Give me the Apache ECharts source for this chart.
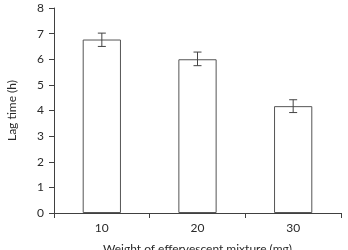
<!DOCTYPE html>
<html>
<head>
<meta charset="utf-8">
<script src="https://cdn.jsdelivr.net/npm/echarts@6/dist/echarts.min.js"></script>
<style>
  html, body { margin: 0; padding: 0; background: #fff; }
  #chart { width: 348px; height: 250px; }
</style>
</head>
<body>
<div id="chart"></div>
<script>
// data
const categories = ['10', '20', '30'];
const lagTime = [6.77, 6.0, 4.17];
const errLow = [6.5, 5.75, 3.92];
const errHigh = [7.02, 6.28, 4.42];

const font = 'Lato';
const textColor = '#2a2a2a';
const axisColor = '#404040';

const chart = echarts.init(document.getElementById('chart'));

chart.setOption({
  animation: false,
  // keep the plot where it is, even if the axis name runs off the bottom
  grid: { left: 54, right: 7, top: 8, bottom: 37, outerBoundsMode: 'none', containLabel: false },
  xAxis: {
    type: 'category',
    data: categories,
    name: 'Weight of effervescent mixture (mg)',
    nameLocation: 'middle',
    nameGap: 30,
    nameTextStyle: { fontFamily: font, fontSize: 12, color: textColor },
    axisLine: { lineStyle: { color: axisColor, width: 1 } },
    axisTick: { show: true, length: 5, lineStyle: { color: axisColor } },
    axisLabel: { fontFamily: font, fontSize: 12, color: textColor, margin: 9 }
  },
  yAxis: {
    type: 'value',
    min: 0,
    max: 8,
    interval: 1,
    name: 'Lag time (h)',
    nameLocation: 'middle',
    nameGap: 36,
    nameTextStyle: { fontFamily: font, fontSize: 12, color: textColor },
    axisLine: { show: true, lineStyle: { color: axisColor, width: 1 } },
    axisTick: { show: true, length: 5, lineStyle: { color: axisColor } },
    axisLabel: { fontFamily: font, fontSize: 12, color: textColor, margin: 10 },
    splitLine: { show: false }
  },
  series: [
    {
      type: 'bar',
      data: lagTime,
      barWidth: '40%',
      itemStyle: { color: '#fff', borderColor: '#555', borderWidth: 1 }
    },
    {
      type: 'custom',
      data: categories.map((c, i) => [i, errLow[i], errHigh[i]]),
      renderItem: function (params, api) {
        const lo = api.coord([api.value(0), api.value(1)]);
        const hi = api.coord([api.value(0), api.value(2)]);
        const w = 4;
        const style = { stroke: '#444', lineWidth: 1, fill: null };
        return {
          type: 'group',
          children: [
            { type: 'line', shape: { x1: hi[0], y1: hi[1], x2: lo[0], y2: lo[1] }, style: style },
            { type: 'line', shape: { x1: hi[0] - w, y1: hi[1], x2: hi[0] + w, y2: hi[1] }, style: style },
            { type: 'line', shape: { x1: lo[0] - w, y1: lo[1], x2: lo[0] + w, y2: lo[1] }, style: style }
          ]
        };
      },
      z: 5
    }
  ]
});
</script>
</body>
</html>
